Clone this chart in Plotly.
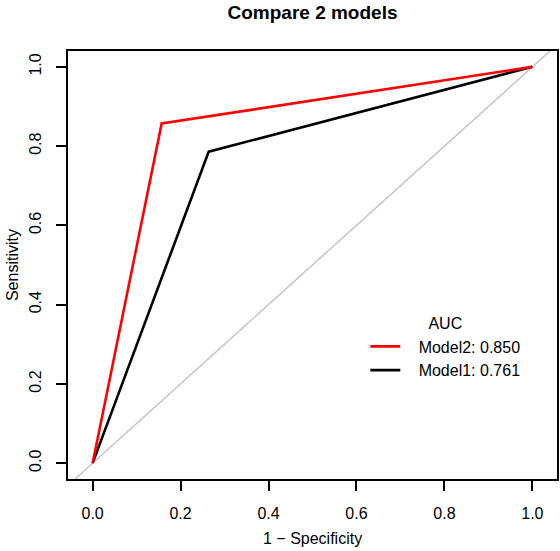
import plotly.graph_objects as go

# ROC data (1 - specificity, sensitivity)
fpr_model1 = [0.0, 0.264, 1.0]
tpr_model1 = [0.0, 0.786, 1.0]
fpr_model2 = [0.0, 0.157, 1.0]
tpr_model2 = [0.0, 0.857, 1.0]
auc_model1 = 0.761
auc_model2 = 0.850
diag = [-0.2, 1.2]
tick_vals = [0.0, 0.2, 0.4, 0.6, 0.8, 1.0]
tick_text = ["0.0", "0.2", "0.4", "0.6", "0.8", "1.0"]

FONT = "Liberation Sans, Arial, sans-serif"
FS = 16
NB = "\u00a0\u00a0\u00a0"

fig = go.Figure()
fig.add_trace(go.Scatter(x=diag, y=diag, mode="lines",
                         line=dict(color="#BEBEBE", width=1.3),
                         showlegend=False, hoverinfo="skip"))
fig.add_trace(go.Scatter(x=fpr_model1, y=tpr_model1, mode="lines",
                         line=dict(color="black", width=2.6),
                         name=f"{NB}Model1: {auc_model1:.3f}"))
fig.add_trace(go.Scatter(x=fpr_model2, y=tpr_model2, mode="lines",
                         line=dict(color="#FF0000", width=2.6),
                         name=f"{NB}Model2: {auc_model2:.3f}"))

axis_common = dict(
    showgrid=False, zeroline=False, showline=True, mirror=True,
    linecolor="black", linewidth=1.8, automargin=False,
    ticks="outside", ticklen=10, tickwidth=1.5, tickcolor="black",
    tickvals=tick_vals, ticktext=tick_text, ticklabelstandoff=9,
    tickfont=dict(family=FONT, size=FS, color="black"),
)

fig.update_layout(
    width=560, height=551,
    margin=dict(l=68, r=3, t=51, b=72, autoexpand=False),
    paper_bgcolor="white", plot_bgcolor="white",
    title=dict(text="<b>Compare 2 models</b>", x=0.5, xref="paper",
               y=1 - 12 / 551, yref="container", yanchor="middle",
               font=dict(family=FONT, size=19, color="black")),
    xaxis=dict(range=[-0.056, 1.056], **axis_common),
    yaxis=dict(range=[-0.04, 1.04], tickangle=-90, **axis_common),
    legend=dict(title=dict(text="AUC", side="top center",
                           font=dict(family=FONT, size=FS, color="black")),
                traceorder="reversed",
                x=0.608, xanchor="left", y=0.398, yanchor="top",
                xref="paper", yref="paper",
                bgcolor="rgba(0,0,0,0)",
                font=dict(family=FONT, size=FS, color="black"),
                itemwidth=30, tracegroupgap=0),
    showlegend=True,
    annotations=[
        dict(text="1 − Specificity", xref="paper", yref="paper",
             x=0.5, y=-59 / 428, xanchor="center", yanchor="middle",
             showarrow=False, font=dict(family=FONT, size=FS, color="black")),
        dict(text="Sensitivity", xref="paper", yref="paper",
             x=-56 / 489.5, y=0.5, xanchor="center", yanchor="middle",
             textangle=-90, showarrow=False,
             font=dict(family=FONT, size=FS, color="black")),
    ],
)

fig.write_html("out.html", config={"displayModeBar": False},
               post_script="document.body.style.margin='0';document.body.style.overflow='hidden';")
